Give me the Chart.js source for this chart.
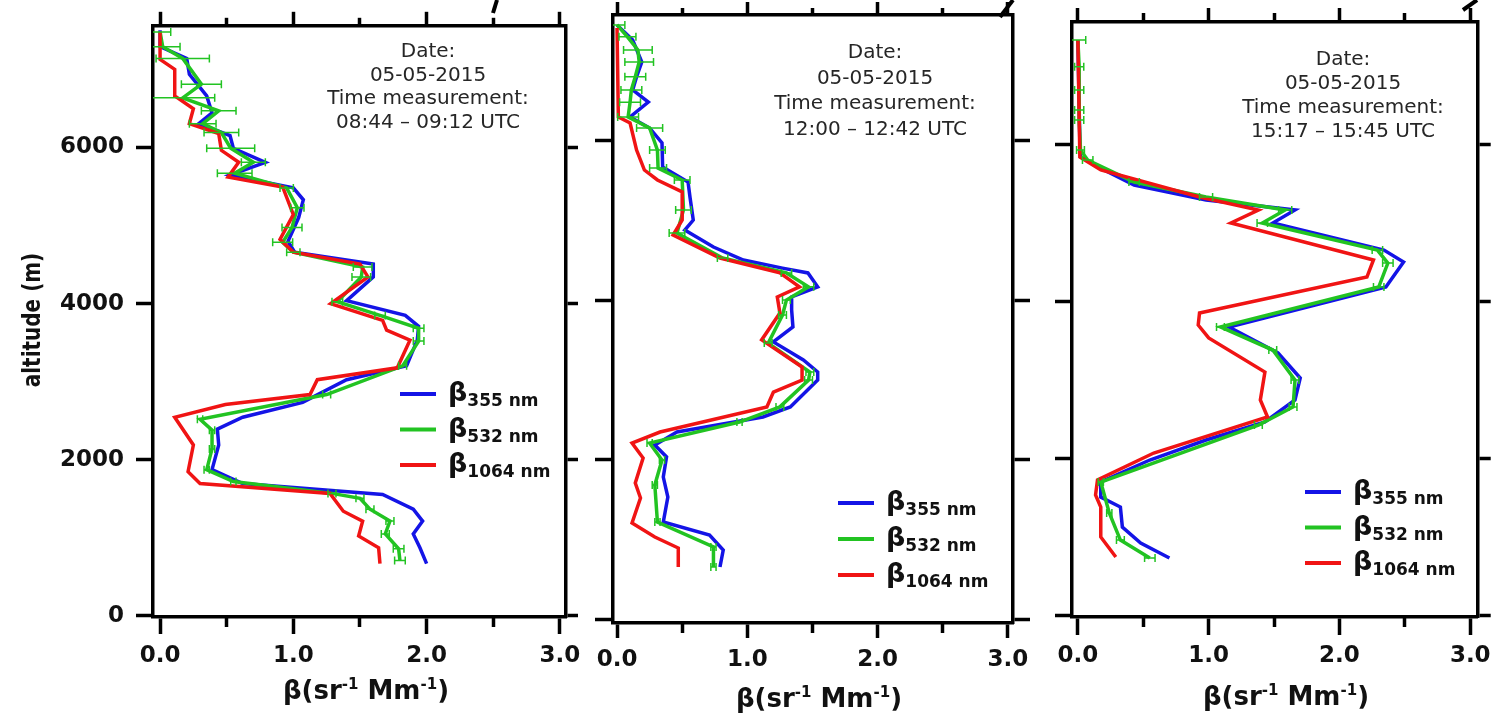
<!DOCTYPE html>
<html>
<head>
<meta charset="utf-8">
<script src="https://cdn.jsdelivr.net/npm/chart.js@4.4.1/dist/chart.umd.min.js"></script>
<style>
html, body { margin: 0; padding: 0; background: #fff; }
#wrap { position: relative; width: 1498px; height: 716px; overflow: hidden; }
canvas { position: absolute; left: 0; top: 0; }
</style>
</head>
<body>
<div id="wrap">
  <canvas id="c1" width="1498" height="716"></canvas>
  <canvas id="c2" width="1498" height="716"></canvas>
  <canvas id="c3" width="1498" height="716"></canvas>
</div>
<script>
const W = 1498, H = 716;

// ================= Data =================
const wavelengths = ["355 nm", "532 nm", "1064 nm"];
const measureDate = "05-05-2015";
const measureTimes = ["08:44 – 09:12 UTC", "12:00 – 12:42 UTC", "15:17 – 15:45 UTC"];
const betaTicks = [0, 1, 2, 3];
const betaMinorTicks = [0.5, 1.5, 2.5];
const altTicks = [0, 2000, 4000, 6000];

// panel 1 : 08:44 - 09:12
const alt1Blue = [670, 873, 1051, 1215, 1367, 1557, 1696, 1874, 2190, 2393, 2545, 2735, 3026, 3203, 3532, 3709, 3849, 4038, 4342, 4507, 4659, 4798, 5102, 5330, 5482, 5646, 5810, 5990, 6153, 6305, 6444, 6660, 6937, 7140, 7292, 7500];
const beta1Blue = [2.0, 1.95, 1.90, 1.97, 1.90, 1.67, 0.62, 0.39, 0.44, 0.43, 0.62, 1.07, 1.40, 1.85, 1.93, 1.94, 1.84, 1.40, 1.60, 1.60, 1.01, 0.96, 1.04, 1.075, 1.0, 0.525, 0.79, 0.55, 0.525, 0.29, 0.39, 0.35, 0.22, 0.20, 0.0, 0.0];
const alt1Green = [709, 861, 1051, 1215, 1367, 1507, 1570, 1722, 1874, 2140, 2380, 2520, 2836, 3203, 3520, 3684, 3849, 4025, 4342, 4469, 4659, 4785, 4975, 5228, 5482, 5670, 5810, 5990, 6190, 6305, 6470, 6635, 6810, 7140, 7290, 7480];
const beta1Green = [1.80, 1.79, 1.69, 1.725, 1.575, 1.50, 1.29, 0.55, 0.35, 0.39, 0.39, 0.30, 1.25, 1.82, 1.94, 1.94, 1.65, 1.33, 1.51, 1.52, 1.0, 0.92, 0.99, 1.03, 0.95, 0.56, 0.70, 0.53, 0.46, 0.32, 0.44, 0.17, 0.31, 0.17, 0.02, 0.0];
const err1Green = [0.04, 0.04, 0.03, 0.03, 0.03, 0.03, 0.03, 0.02, 0.02, 0.02, 0.02, 0.02, 0.03, 0.03, 0.04, 0.04, 0.04, 0.04, 0.07, 0.07, 0.05, 0.075, 0.075, 0.05, 0.05, 0.13, 0.09, 0.18, 0.13, 0.10, 0.13, 0.24, 0.15, 0.20, 0.13, 0.08];
const alt1Red = [670, 873, 1025, 1215, 1342, 1570, 1696, 1848, 2190, 2545, 2709, 2836, 3026, 3178, 3532, 3660, 3785, 4000, 4342, 4507, 4659, 4823, 5140, 5494, 5620, 5810, 5963, 6178, 6305, 6495, 6660, 7000, 7128, 7482];
const beta1Red = [1.65, 1.64, 1.49, 1.52, 1.375, 1.275, 0.30, 0.21, 0.25, 0.11, 0.49, 1.125, 1.18, 1.78, 1.875, 1.70, 1.67, 1.28, 1.56, 1.50, 1.0, 0.90, 1.0, 0.92, 0.51, 0.59, 0.46, 0.44, 0.22, 0.25, 0.11, 0.11, 0.0, 0.0];

// panel 2 : 12:00 - 12:42
const alt2Blue = [652, 865, 1053, 1216, 1530, 1780, 2032, 2182, 2345, 2533, 2660, 2997, 3098, 3248, 3475, 3662, 3875, 4038, 4165, 4340, 4400, 4502, 4665, 4878, 5003, 5290, 5480, 5668, 5970, 6157, 6295, 6483, 6635, 6800, 6985, 7260, 7450];
const beta2Blue = [0.79, 0.815, 0.71, 0.355, 0.39, 0.355, 0.38, 0.29, 0.46, 1.12, 1.33, 1.54, 1.54, 1.43, 1.20, 1.35, 1.34, 1.34, 1.54, 1.465, 1.27, 0.97, 0.74, 0.52, 0.585, 0.56, 0.545, 0.35, 0.345, 0.25, 0.10, 0.24, 0.12, 0.15, 0.19, 0.12, 0.0];
const alt2Green = [652, 903, 1216, 1680, 1994, 2207, 2470, 2660, 2997, 3098, 3460, 3812, 4000, 4165, 4340, 4527, 4840, 5130, 5505, 5655, 5880, 6157, 6295, 6480, 6635, 6800, 6985, 7135, 7300, 7450];
const beta2Green = [0.74, 0.74, 0.31, 0.29, 0.345, 0.25, 0.94, 1.25, 1.47, 1.48, 1.16, 1.27, 1.30, 1.47, 1.30, 0.81, 0.46, 0.51, 0.50, 0.315, 0.31, 0.25, 0.085, 0.10, 0.11, 0.14, 0.17, 0.16, 0.08, 0.0];
const err2Green = [0.02, 0.02, 0.02, 0.02, 0.02, 0.02, 0.02, 0.03, 0.03, 0.03, 0.03, 0.03, 0.03, 0.04, 0.04, 0.04, 0.06, 0.06, 0.06, 0.065, 0.06, 0.10, 0.08, 0.08, 0.08, 0.08, 0.11, 0.11, 0.065, 0.06];
const alt2Red = [652, 890, 1028, 1204, 1518, 1705, 2018, 2207, 2345, 2660, 2846, 2997, 3160, 3500, 3837, 4038, 4165, 4340, 4527, 4815, 5003, 5355, 5505, 5630, 5880, 6220, 6295, 7410];
const beta2Red = [0.47, 0.47, 0.29, 0.115, 0.18, 0.14, 0.20, 0.115, 0.33, 1.15, 1.20, 1.42, 1.42, 1.11, 1.25, 1.23, 1.40, 1.25, 0.79, 0.43, 0.50, 0.50, 0.31, 0.21, 0.15, 0.10, 0.01, 0.0];

// panel 3 : 15:17 - 15:45
const alt3Blue = [726, 917, 1121, 1376, 1503, 1695, 1975, 2230, 2460, 2740, 3019, 3338, 3670, 4179, 4497, 4650, 4994, 5160, 5287, 5478, 5670, 5835, 6013, 7325];
const beta3Blue = [0.70, 0.48, 0.34, 0.325, 0.175, 0.175, 0.55, 0.98, 1.43, 1.66, 1.70, 1.53, 1.155, 2.355, 2.49, 2.34, 1.49, 1.66, 0.98, 0.43, 0.20, 0.02, 0.015, 0.0];
const alt3Green = [726, 955, 1300, 1695, 2420, 2650, 2994, 3376, 3670, 4179, 4484, 4650, 4994, 5160, 5325, 5516, 5797, 5925, 6306, 6434, 6689, 6985, 7325];
const beta3Green = [0.55, 0.325, 0.24, 0.175, 1.38, 1.645, 1.66, 1.49, 1.09, 2.30, 2.37, 2.29, 1.41, 1.585, 0.98, 0.43, 0.075, 0.02, 0.01, 0.01, 0.01, 0.01, 0.0];
const err3Green = [0.04, 0.03, 0.02, 0.02, 0.03, 0.03, 0.03, 0.03, 0.03, 0.04, 0.04, 0.04, 0.04, 0.05, 0.05, 0.04, 0.04, 0.03, 0.035, 0.035, 0.035, 0.035, 0.06];
const alt3Red = [739, 994, 1376, 1529, 1720, 2064, 2523, 2740, 3096, 3530, 3695, 3847, 4306, 4523, 4994, 5160, 5325, 5670, 5835, 7325];
const beta3Red = [0.29, 0.175, 0.175, 0.135, 0.15, 0.58, 1.45, 1.395, 1.43, 1.00, 0.92, 0.93, 2.21, 2.26, 1.17, 1.38, 0.93, 0.175, 0.015, 0.0];

// ================= Styles =================
const BLUE = "#1414e6", GREEN = "#22c322", RED = "#f01414";
const TEXT = "#111";
const FONT = "'DejaVu Sans'";

function points(alt, beta) {
    return alt.map((a, i) => ({ x: beta[i], y: a }));
}

function series(label, alt, beta, color, order, errors) {
    return {
        label: label,
        data: points(alt, beta),
        borderColor: color,
        backgroundColor: color,
        borderWidth: 3.5,
        showLine: true,
        pointRadius: 0,
        tension: 0,
        order: order,
        errors: errors,
        xAxisID: "x",
        yAxisID: "y"
    };
}

// ================= Plugin: error bars, note, legend, titles =================
const decorPlugin = {
    id: "decor",
    afterDatasetsDraw(chart) {
        const ctx = chart.ctx;
        const area = chart.chartArea;
        const xs = chart.scales.x, ys = chart.scales.y;
        ctx.save();
        ctx.beginPath();
        ctx.rect(area.left, area.top, area.right - area.left, area.bottom - area.top);
        ctx.clip();
        chart.data.datasets.forEach(ds => {
            if (!ds.errors) return;
            ctx.strokeStyle = ds.borderColor;
            ctx.lineWidth = 1.5;
            ds.data.forEach((p, j) => {
                const e = ds.errors[j];
                const y = ys.getPixelForValue(p.y);
                const x1 = xs.getPixelForValue(p.x - e);
                const x2 = xs.getPixelForValue(p.x + e);
                ctx.beginPath();
                ctx.moveTo(x1, y); ctx.lineTo(x2, y);
                ctx.moveTo(x1, y - 4); ctx.lineTo(x1, y + 4);
                ctx.moveTo(x2, y - 4); ctx.lineTo(x2, y + 4);
                ctx.stroke();
            });
        });
        ctx.restore();
    },
    afterDraw(chart, args, o) {
        const ctx = chart.ctx;
        ctx.save();

        // measurement note
        ctx.fillStyle = "#262626";
        ctx.font = "20px " + FONT;
        ctx.textAlign = "center";
        ctx.textBaseline = "alphabetic";
        o.note.lines.forEach((t, i) => ctx.fillText(t, o.note.x, o.note.y + i * o.note.gap));

        // legend with subscripts
        ctx.textAlign = "left";
        chart.data.datasets.forEach((ds, i) => {
            const y = o.legend.y + i * o.legend.gap;
            ctx.strokeStyle = ds.borderColor;
            ctx.lineWidth = 4;
            ctx.beginPath();
            ctx.moveTo(o.legend.x, y);
            ctx.lineTo(o.legend.x + 36, y);
            ctx.stroke();
            ctx.fillStyle = TEXT;
            ctx.font = "bold 27px " + FONT;
            const bx = o.legend.x + 48;
            ctx.fillText("β", bx, y + 7);
            const bw = ctx.measureText("β").width;
            ctx.font = "bold 17px " + FONT;
            ctx.fillText(ds.label, bx + bw, y + 12);
        });

        // x axis title with superscripts
        const runs = [["β(sr", false], ["-1", true], [" Mm", false], ["-1", true], [")", false]];
        const fontFor = sup => sup ? "bold 15px " + FONT : "bold 26px " + FONT;
        let total = 0;
        runs.forEach(r => { ctx.font = fontFor(r[1]); total += ctx.measureText(r[0]).width; });
        let tx = o.title.x - total / 2;
        ctx.fillStyle = TEXT;
        runs.forEach(r => {
            ctx.font = fontFor(r[1]);
            ctx.fillText(r[0], tx, r[1] ? o.title.y - 10 : o.title.y);
            tx += ctx.measureText(r[0]).width;
        });

        // y axis title, glyphs widened like the source figure
        if (o.yTitle) {
            ctx.save();
            ctx.translate(o.yTitle.x, o.yTitle.y);
            ctx.rotate(-Math.PI / 2);
            ctx.scale(1, 1.25);
            ctx.font = "bold 20px " + FONT;
            ctx.textAlign = "center";
            ctx.textBaseline = "middle";
            ctx.fillText(o.yTitle.text, 0, 0);
            ctx.restore();
        }

        // cut-off strokes at the top edge
        ctx.strokeStyle = "#000";
        ctx.lineWidth = 4;
        o.marks.forEach(m => {
            ctx.beginPath();
            ctx.moveTo(m[0], m[1]);
            ctx.lineTo(m[2], m[3]);
            ctx.stroke();
        });
        ctx.restore();
    }
};

// ================= Chart builder =================
function makeChart(id, p) {
    const fr = p.frame;
    const tickFont = { family: "DejaVu Sans", weight: "bold", size: 23 };
    const xCommon = { type: "linear", axis: "x", min: p.xMin, max: p.xMax };
    const yCommon = { type: "linear", axis: "y", min: p.yMin, max: p.yMax };
    const frameBorder = { display: true, width: 3.5, color: "#000" };
    const noBorder = { display: false };
    const tickGrid = len => ({ drawOnChartArea: false, drawTicks: true, tickLength: len, tickWidth: 3.5, tickColor: "#000" });
    const setTicks = vals => s => { s.ticks = vals.map(v => ({ value: v })); };

    return new Chart(document.getElementById(id), {
        type: "scatter",
        data: { datasets: p.datasets },
        options: {
            responsive: false,
            animation: false,
            events: [],
            layout: { padding: 0 },
            plugins: {
                legend: { display: false },
                tooltip: { enabled: false },
                decor: p.decor
            },
            scales: {
                x: {
                    ...xCommon, position: "bottom", weight: 1,
                    afterBuildTicks: setTicks(betaTicks),
                    afterFit: s => { s.height = H - fr.bottom; },
                    ticks: { font: tickFont, color: TEXT, padding: p.xLabelPad, maxRotation: 0, autoSkip: false, callback: v => v.toFixed(1) },
                    grid: tickGrid(p.tick.bottom),
                    border: frameBorder
                },
                x2: {
                    ...xCommon, position: "bottom", weight: 0,
                    afterBuildTicks: setTicks(betaMinorTicks),
                    afterFit: s => { s.height = 0; },
                    ticks: { display: false },
                    grid: tickGrid(p.tick.bottomMinor),
                    border: noBorder
                },
                xT: {
                    ...xCommon, position: "top", weight: 1,
                    afterBuildTicks: setTicks(betaTicks),
                    afterFit: s => { s.height = fr.top; },
                    ticks: { display: false },
                    grid: tickGrid(p.tick.top),
                    border: frameBorder
                },
                xT2: {
                    ...xCommon, position: "top", weight: 0,
                    afterBuildTicks: setTicks(betaMinorTicks),
                    afterFit: s => { s.height = 0; },
                    ticks: { display: false },
                    grid: tickGrid(p.tick.topMinor),
                    border: noBorder
                },
                y: {
                    ...yCommon, position: "left", weight: 1,
                    afterBuildTicks: setTicks(altTicks),
                    afterFit: s => { s.width = fr.left; },
                    ticks: { display: p.yLabels, font: tickFont, color: TEXT, padding: 12, callback: v => String(v) },
                    grid: tickGrid(p.tick.left),
                    border: frameBorder
                },
                yR: {
                    ...yCommon, position: "right", weight: 1,
                    afterBuildTicks: setTicks(altTicks),
                    afterFit: s => { s.width = W - fr.right; },
                    ticks: { display: false },
                    grid: tickGrid(p.tick.right),
                    border: frameBorder
                }
            }
        },
        plugins: [decorPlugin]
    });
}

// ================= Panels =================
makeChart("c1", {
    frame: { left: 153, right: 566, top: 19, bottom: 617 },
    xMin: -0.053, xMax: 3.046, yMin: -13, yMax: 7558,
    tick: { bottom: 17, bottomMinor: 10, top: 14, topMinor: 8, left: 17, right: 12 },
    xLabelPad: 8, yLabels: true,
    datasets: [
        series(wavelengths[0], alt1Blue, beta1Blue, BLUE, 2),
        series(wavelengths[1], alt1Green, beta1Green, GREEN, 1, err1Green),
        series(wavelengths[2], alt1Red, beta1Red, RED, 0)
    ],
    decor: {
        note: { x: 428, y: 57, gap: 23.7, lines: ["Date:", measureDate, "Time measurement:", measureTimes[0]] },
        legend: { x: 400, y: 394, gap: 35.5 },
        title: { x: 366, y: 699 },
        yTitle: { x: 33, y: 320, text: "altitude (m)" },
        marks: [[497, 0, 493, 13]]
    }
});

makeChart("c2", {
    frame: { left: 613, right: 1013, top: 15, bottom: 623 },
    xMin: -0.031, xMax: 3.039, yMin: -50, yMax: 7574,
    tick: { bottom: 15, bottomMinor: 10, top: 13, topMinor: 7, left: 18, right: 17 },
    xLabelPad: 8, yLabels: false,
    datasets: [
        series(wavelengths[0], alt2Blue, beta2Blue, BLUE, 2),
        series(wavelengths[1], alt2Green, beta2Green, GREEN, 1, err2Green),
        series(wavelengths[2], alt2Red, beta2Red, RED, 0)
    ],
    decor: {
        note: { x: 875, y: 58, gap: 25.5, lines: ["Date:", measureDate, "Time measurement:", measureTimes[1]] },
        legend: { x: 838, y: 503, gap: 36 },
        title: { x: 819, y: 707 },
        marks: [[1013, 0, 1000, 17]]
    }
});

makeChart("c3", {
    frame: { left: 1072, right: 1483, top: 22, bottom: 617 },
    xMin: -0.045, xMax: 3.057, yMin: -25, yMax: 7555,
    tick: { bottom: 18, bottomMinor: 10, top: 14, topMinor: 9, left: 17, right: 13 },
    xLabelPad: 7, yLabels: false,
    datasets: [
        series(wavelengths[0], alt3Blue, beta3Blue, BLUE, 2),
        series(wavelengths[1], alt3Green, beta3Green, GREEN, 1, err3Green),
        series(wavelengths[2], alt3Red, beta3Red, RED, 0)
    ],
    decor: {
        note: { x: 1343, y: 65, gap: 24, lines: ["Date:", measureDate, "Time measurement:", measureTimes[2]] },
        legend: { x: 1305, y: 492, gap: 35.5 },
        title: { x: 1286, y: 705 },
        marks: [[1477, 0, 1463, 10]]
    }
});
</script>
</body>
</html>
